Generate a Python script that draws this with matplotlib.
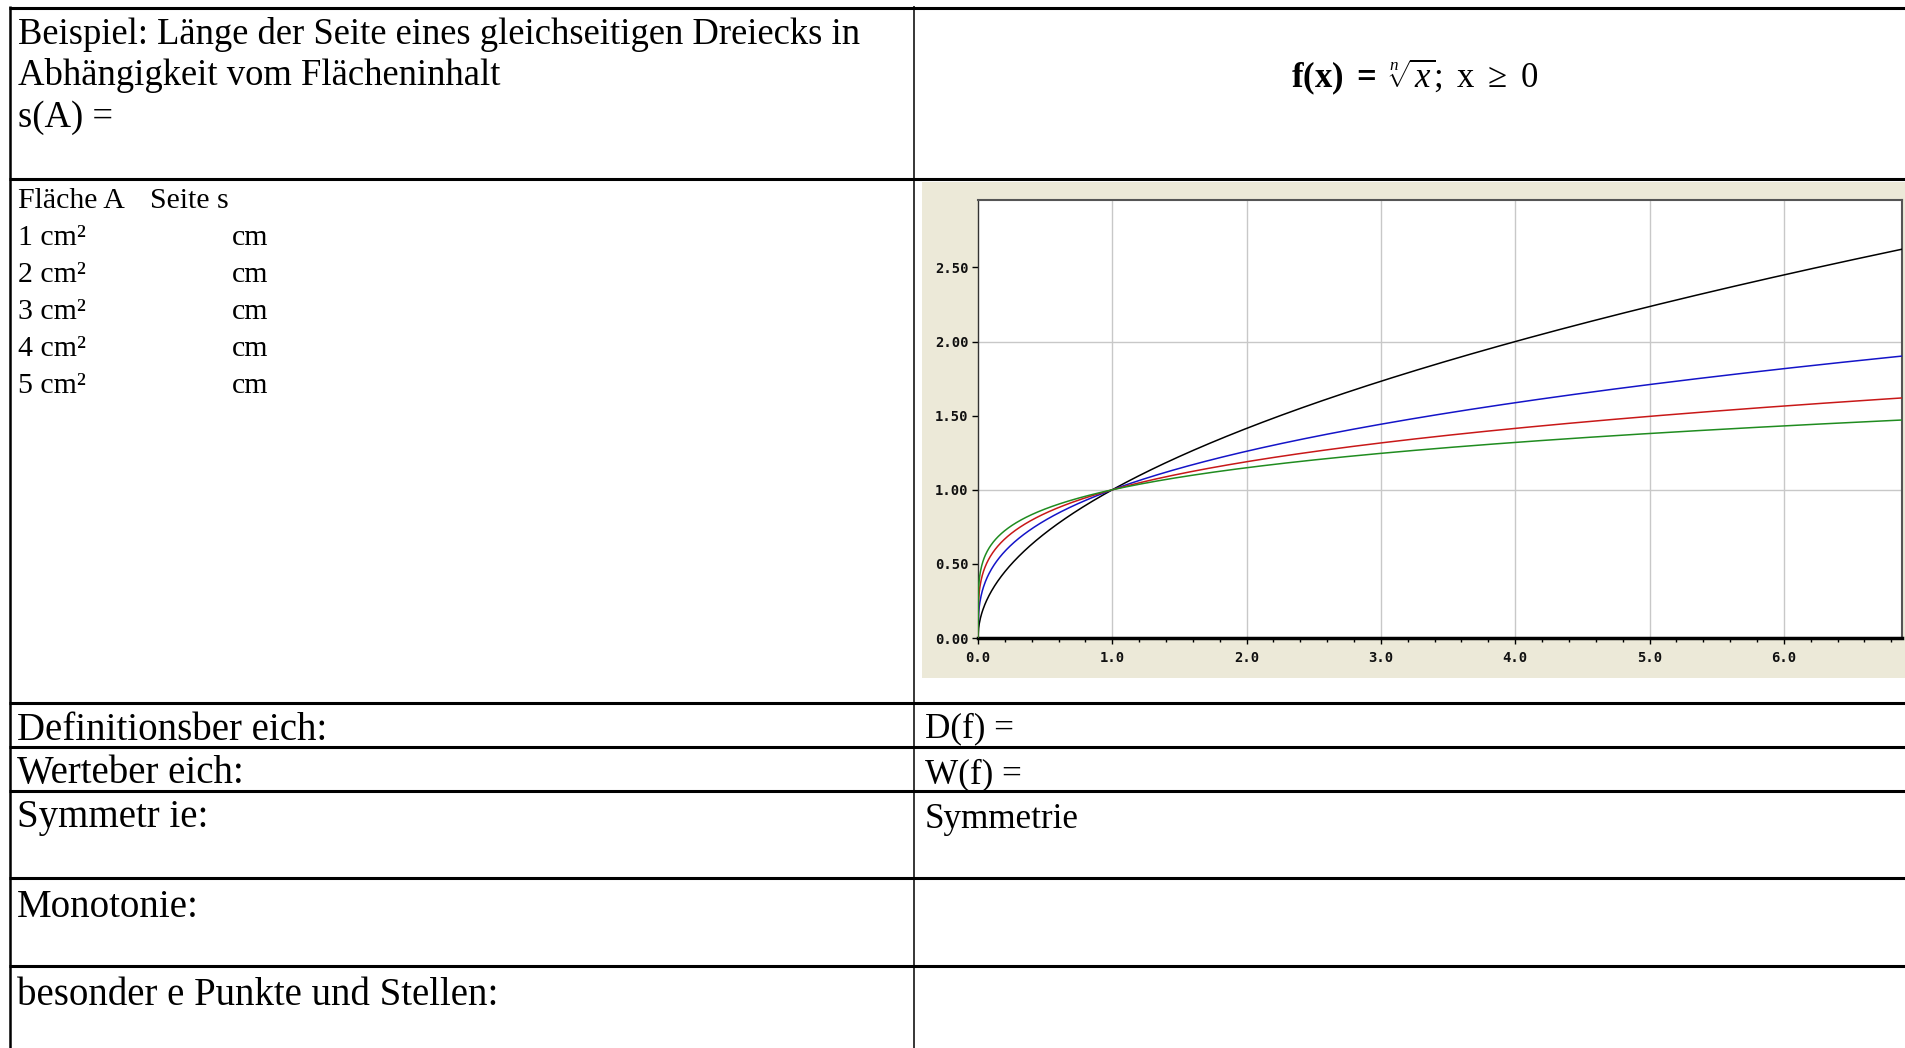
import numpy as np
import matplotlib
matplotlib.use("Agg")
import matplotlib.pyplot as plt
from matplotlib.patches import Rectangle

# ---------------- data ----------------
root_degrees = [2, 3, 4, 5]                      # f(x) = x^(1/n)
curve_colors = ["#000000", "#1414C8", "#C81818", "#208C20"]
x_max = 6.88
y_max = 2.955
x_major = [0, 1, 2, 3, 4, 5, 6]
x_labels = ["0.0", "1.0", "2.0", "3.0", "4.0", "5.0", "6.0"]
y_major = [0.0, 0.5, 1.0, 1.5, 2.0, 2.5]
y_labels = ["0.00", "0.50", "1.00", "1.50", "2.00", "2.50"]
grid_x = [1, 2, 3, 4, 5, 6]
grid_y = [1, 2]

title_lines = ["Beispiel: Länge der Seite eines gleichseitigen Dreiecks in",
               "Abhängigkeit vom Flächeninhalt",
               "s(A) ="]
areas = ["1 cm²", "2 cm²", "3 cm²", "4 cm²", "5 cm²"]
left_labels = ["Definitionsber eich:", "Werteber eich:", "Symmetr ie:",
               "Monotonie:", "besonder e Punkte und Stellen:"]
right_labels = ["D(f) =", "W(f) =", "Symmetrie"]

# ---------------- figure ----------------
W, H = 1905, 1048
plt.rcParams["mathtext.fontset"] = "custom"
plt.rcParams["mathtext.rm"] = "Liberation Serif"
plt.rcParams["mathtext.it"] = "Liberation Serif:italic"
plt.rcParams["mathtext.bf"] = "Liberation Serif:bold"

fig = plt.figure(figsize=(W / 100, H / 100), dpi=100)
fig.patch.set_facecolor("white")

bg = fig.add_axes([0, 0, 1, 1])
bg.set_xlim(0, W)
bg.set_ylim(H, 0)
bg.axis("off")

serif = "Liberation Serif"

# table lines
h_lines = [7.5, 179, 703, 747, 790.5, 878, 965.5]
for y in h_lines:
    bg.plot([9, W], [y, y], color="black", lw=2.2, solid_capstyle="butt")
bg.plot([10, 10], [6, H], color="black", lw=1.8, solid_capstyle="butt")
bg.plot([914, 914], [6, H], color="black", lw=1.1, solid_capstyle="butt")

# beige chart background
bg.add_patch(Rectangle((922, 182), W - 922, 678 - 182, facecolor="#ECE9D8",
                       edgecolor="none"))

# row 1 text
for i, t in enumerate(title_lines):
    bg.text(18, 43.5 + i * 41.5, t, fontsize=26.4, family=serif,
            va="baseline", ha="left")

# formula
bg.text(1415, 87, r"$\mathbf{f(x)\ =}\ \sqrt[n]{x};\ \mathrm{x}\ \geq\ 0$",
        fontsize=25, ha="center", va="baseline")

# row 2 text
bg.text(18, 208, "Fläche A", fontsize=21.5, family=serif, va="baseline")
bg.text(150, 208, "Seite s", fontsize=21.5, family=serif, va="baseline")
for i, a in enumerate(areas):
    yb = 245 + i * 37
    bg.text(18, yb, a, fontsize=21.5, family=serif, va="baseline")
    bg.text(232, yb, "cm", fontsize=21.5, family=serif, va="baseline")

# lower rows
left_base = [739.5, 783, 827, 917, 1005]
for t, yb in zip(left_labels, left_base):
    bg.text(17, yb, t, fontsize=28, family=serif, va="baseline")
right_base = [737.5, 783, 828]
for t, yb in zip(right_labels, right_base):
    bg.text(925, yb, t, fontsize=25.3, family=serif, va="baseline")

# ---------------- chart ----------------
L, R, T, B = 978, 1902, 200, 638
ax = fig.add_axes([L / W, (H - B) / H, (R - L) / W, (B - T) / H])
ax.set_facecolor("white")
ax.set_xlim(0, x_max)
ax.set_ylim(0, y_max)

for gx in grid_x:
    ax.axvline(gx, color="#C8C8C8", lw=1.0, zorder=1)
for gy in grid_y:
    ax.axhline(gy, color="#C8C8C8", lw=1.0, zorder=1)

xs = np.linspace(0, x_max, 1500)
for n, c in zip(root_degrees, curve_colors):
    ax.plot(xs, np.power(xs, 1.0 / n), color=c, lw=1.1, zorder=3)

ax.set_xticks(x_major)
ax.set_xticklabels(x_labels)
ax.set_xticks(np.arange(0, x_max + 1e-9, 0.2), minor=True)
ax.set_yticks(y_major)
ax.set_yticklabels(y_labels)
ax.tick_params(axis="x", which="major", direction="out", length=4.5, width=1,
               pad=4.5, colors="black")
ax.tick_params(axis="x", which="minor", direction="out", length=3, width=1,
               colors="black")
ax.tick_params(axis="y", which="major", direction="out", length=4.3, width=1,
               pad=2.5, colors="black")
for lab in ax.get_xticklabels() + ax.get_yticklabels():
    lab.set_family("DejaVu Sans Mono")
    lab.set_fontweight("bold")
    lab.set_fontsize(10)
    lab.set_color("#111111")

ax.spines["bottom"].set_linewidth(2.5)
ax.spines["bottom"].set_color("black")
ax.spines["left"].set_linewidth(1.0)
ax.spines["left"].set_color("#333333")
ax.spines["top"].set_linewidth(1.5)
ax.spines["top"].set_color("#555555")
ax.spines["right"].set_linewidth(1.5)
ax.spines["right"].set_color("#555555")

fig.savefig("out.png", dpi=100, facecolor="white")
